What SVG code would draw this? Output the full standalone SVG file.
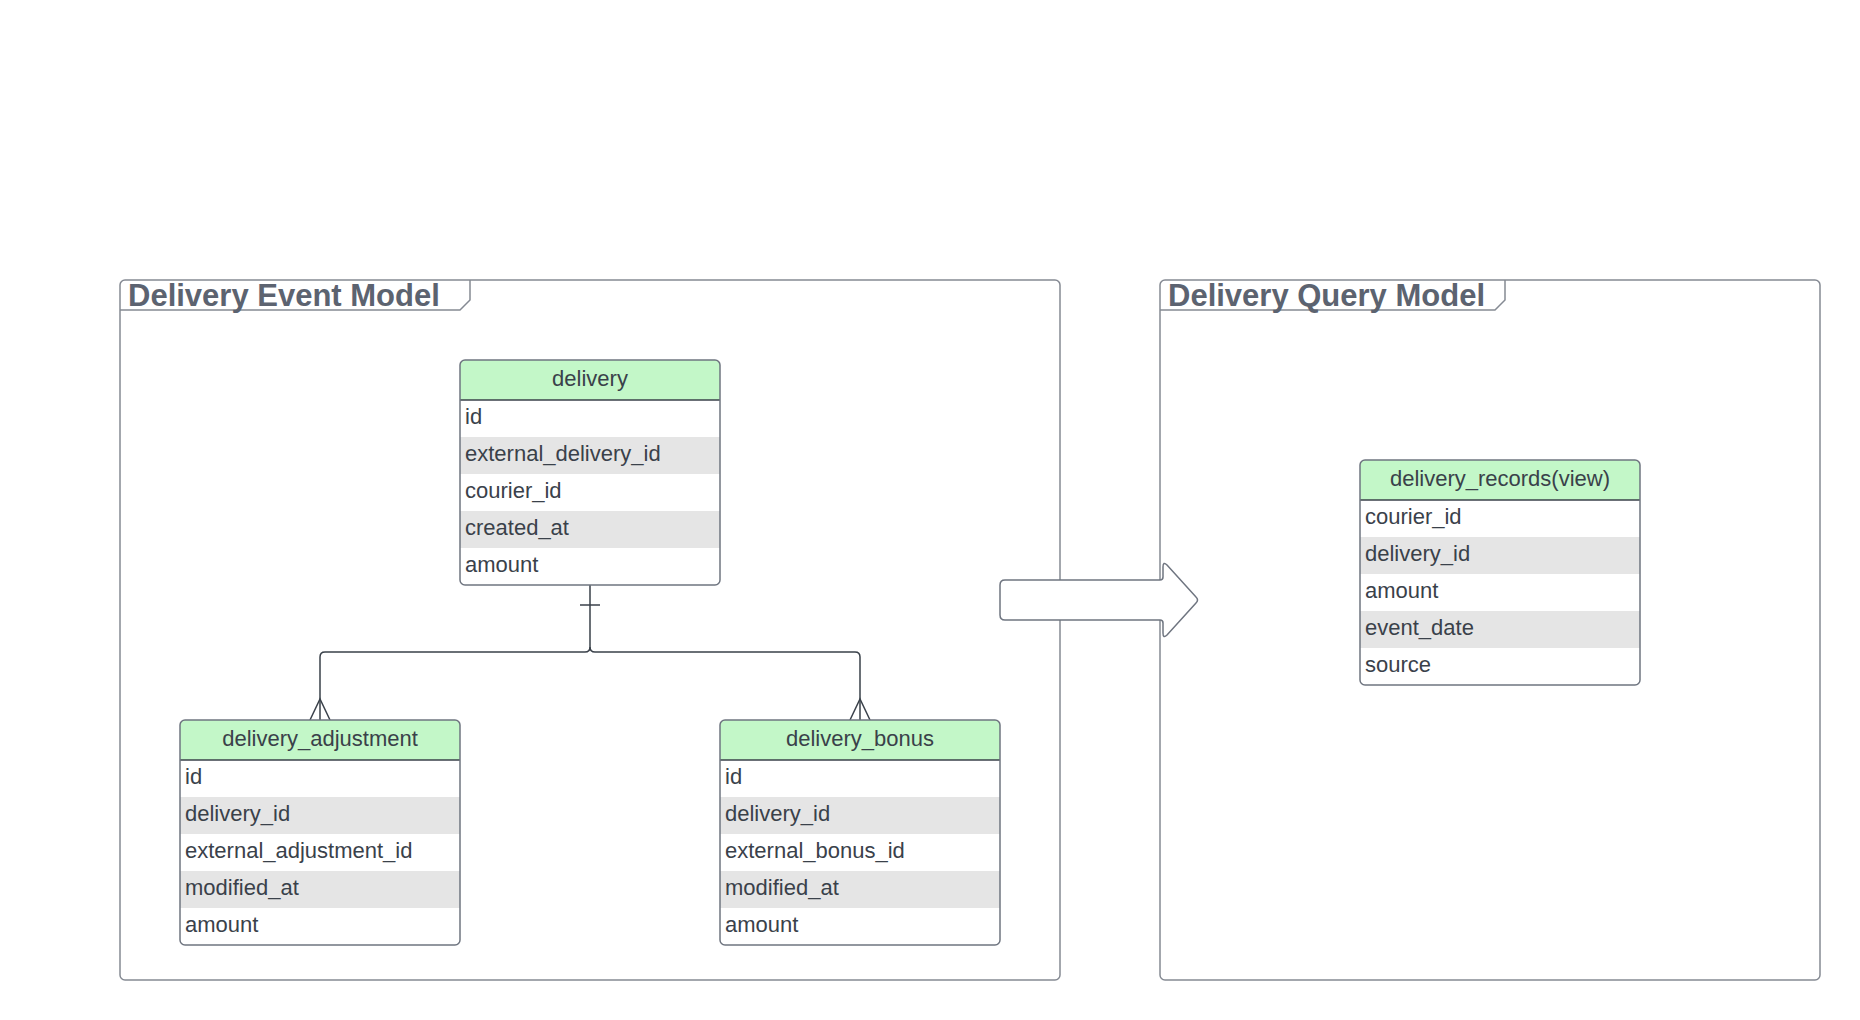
<svg xmlns="http://www.w3.org/2000/svg" width="1860" height="1020" viewBox="0 0 1860 1020">
<style>
.frame{fill:none;stroke:#858a93;stroke-width:1.5}
.ftitle{font-family:"Liberation Sans",Arial,sans-serif;font-weight:bold;font-size:31px;fill:#5c6370}
.bg{fill:#ffffff}
.hdr{fill:#c3f7c8}
.alt{fill:#e5e5e5}
.border{fill:none;stroke:#6f7580;stroke-width:1.5}
.sep{stroke:#3a414a;stroke-width:1.5}
.txt{font-family:"Liberation Sans",Arial,sans-serif;font-size:22px;fill:#3a414a}
.htxt{font-family:"Liberation Sans",Arial,sans-serif;font-size:22px;fill:#3a414a;text-anchor:middle}
.conn{fill:none;stroke:#3a414a;stroke-width:1.5}
.arrow{fill:#ffffff;stroke:#6f7580;stroke-width:1.5}
</style>
<rect width="1860" height="1020" fill="#ffffff"/>

<g id="frame-event">
<rect class="frame" x="120" y="280" width="940" height="700" rx="5"/>
<path class="frame" d="M120,310 H460 L470,300 V280"/>
<text class="ftitle" x="128" y="306">Delivery Event Model</text>
</g>

<g id="frame-query">
<rect class="frame" x="1160" y="280" width="660" height="700" rx="5"/>
<path class="frame" d="M1160,310 H1495 L1505,300 V280"/>
<text class="ftitle" x="1168" y="306">Delivery Query Model</text>
</g>

<g id="connectors">
<path class="conn" d="M590,585 V647 Q590,652 585,652 H325 Q320,652 320,657 V720"/>
<path class="conn" d="M590,647 Q590,652 595,652 H855 Q860,652 860,657 V720"/>
<path class="conn" d="M580,605 H600"/>
<path class="conn" d="M310,720 L320,699 L330,720"/>
<path class="conn" d="M850,720 L860,699 L870,720"/>
</g>

<g id="delivery">
<rect class="bg" x="460" y="360" width="260" height="225" rx="5"/>
<path class="hdr" d="M460,400 V365 Q460,360 465,360 H715 Q720,360 720,365 V400 Z"/>
<rect class="alt" x="460" y="437" width="260" height="37"/>
<rect class="alt" x="460" y="511" width="260" height="37"/>
<line class="sep" x1="460" y1="400" x2="720" y2="400"/>
<rect class="border" x="460" y="360" width="260" height="225" rx="5"/>
<text class="htxt" x="590" y="386">delivery</text>
<text class="txt" x="465" y="424">id</text>
<text class="txt" x="465" y="461">external_delivery_id</text>
<text class="txt" x="465" y="498">courier_id</text>
<text class="txt" x="465" y="535">created_at</text>
<text class="txt" x="465" y="572">amount</text>
</g>

<g id="delivery_adjustment">
<rect class="bg" x="180" y="720" width="280" height="225" rx="5"/>
<path class="hdr" d="M180,760 V725 Q180,720 185,720 H455 Q460,720 460,725 V760 Z"/>
<rect class="alt" x="180" y="797" width="280" height="37"/>
<rect class="alt" x="180" y="871" width="280" height="37"/>
<line class="sep" x1="180" y1="760" x2="460" y2="760"/>
<rect class="border" x="180" y="720" width="280" height="225" rx="5"/>
<text class="htxt" x="320" y="746">delivery_adjustment</text>
<text class="txt" x="185" y="784">id</text>
<text class="txt" x="185" y="821">delivery_id</text>
<text class="txt" x="185" y="858">external_adjustment_id</text>
<text class="txt" x="185" y="895">modified_at</text>
<text class="txt" x="185" y="932">amount</text>
</g>

<g id="delivery_bonus">
<rect class="bg" x="720" y="720" width="280" height="225" rx="5"/>
<path class="hdr" d="M720,760 V725 Q720,720 725,720 H995 Q1000,720 1000,725 V760 Z"/>
<rect class="alt" x="720" y="797" width="280" height="37"/>
<rect class="alt" x="720" y="871" width="280" height="37"/>
<line class="sep" x1="720" y1="760" x2="1000" y2="760"/>
<rect class="border" x="720" y="720" width="280" height="225" rx="5"/>
<text class="htxt" x="860" y="746">delivery_bonus</text>
<text class="txt" x="725" y="784">id</text>
<text class="txt" x="725" y="821">delivery_id</text>
<text class="txt" x="725" y="858">external_bonus_id</text>
<text class="txt" x="725" y="895">modified_at</text>
<text class="txt" x="725" y="932">amount</text>
</g>

<g id="delivery_records">
<rect class="bg" x="1360" y="460" width="280" height="225" rx="5"/>
<path class="hdr" d="M1360,500 V465 Q1360,460 1365,460 H1635 Q1640,460 1640,465 V500 Z"/>
<rect class="alt" x="1360" y="537" width="280" height="37"/>
<rect class="alt" x="1360" y="611" width="280" height="37"/>
<line class="sep" x1="1360" y1="500" x2="1640" y2="500"/>
<rect class="border" x="1360" y="460" width="280" height="225" rx="5"/>
<text class="htxt" x="1500" y="486">delivery_records(view)</text>
<text class="txt" x="1365" y="524">courier_id</text>
<text class="txt" x="1365" y="561">delivery_id</text>
<text class="txt" x="1365" y="598">amount</text>
<text class="txt" x="1365" y="635">event_date</text>
<text class="txt" x="1365" y="672">source</text>
</g>

<g id="transform-arrow">
<path class="arrow" d="M1005,580 H1160 Q1163,580 1163,577 V567 Q1163,561 1167,565 L1196,597 Q1199,600 1196,603 L1167,635 Q1163,639 1163,633 V623 Q1163,620 1160,620 H1005 Q1000,620 1000,615 V585 Q1000,580 1005,580 Z"/>
</g>
</svg>
